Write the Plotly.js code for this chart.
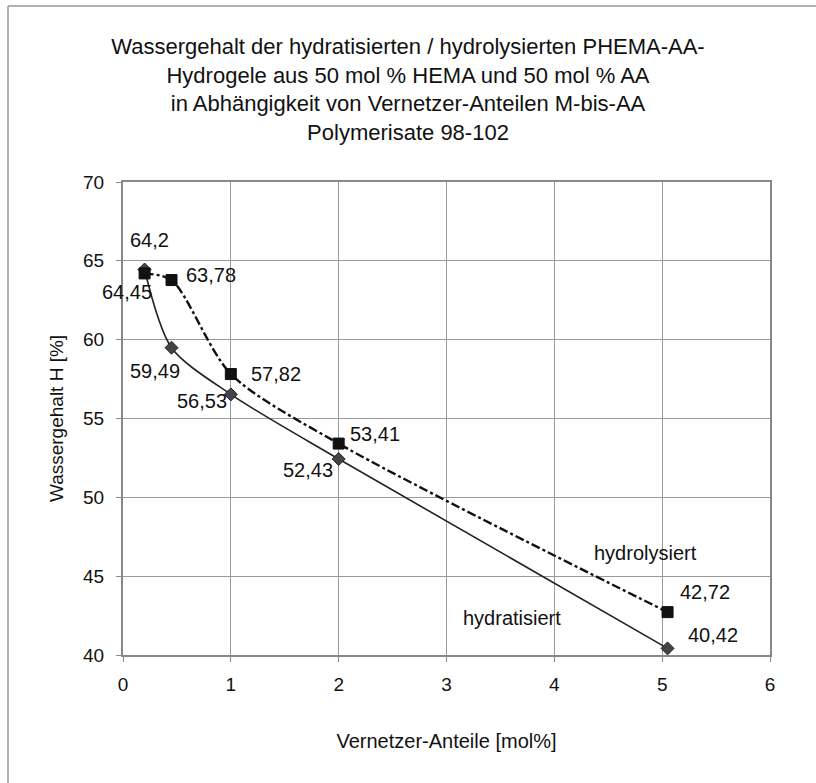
<!DOCTYPE html>
<html>
<head>
<meta charset="utf-8">
<script src="https://cdn.plot.ly/plotly-3.0.1.min.js"></script>
<style>
html,body{margin:0;padding:0;background:#fff;}
#chart{width:816px;height:783px;}
</style>
</head>
<body>
<div id="chart"></div>
<script>
// Data
const vernetzer = [0.2, 0.45, 1, 2, 5.05];
const hydratisiert = [64.45, 59.49, 56.53, 52.43, 40.42];
const hydrolysiert = [64.2, 63.78, 57.82, 53.41, 42.72];
const xTicks = [0, 1, 2, 3, 4, 5, 6];
const yTicks = [40, 45, 50, 55, 60, 65, 70];

const fmt = v => String(v).replace('.', ',');
const FONT = 'Liberation Sans, Arial, sans-serif';

// label offsets in px: [dx, dy] with dy positive = downward
const offHydrat = [[-18, 22], [-17, 23], [-29, 7], [-31, 11], [45, -13]];
const offHydrol = [[5, -33], [39, -5], [45, 0], [36, -10], [37, -20]];

const traces = [
  {
    x: vernetzer, y: hydratisiert, type: 'scatter', mode: 'lines+markers',
    name: 'hydratisiert',
    line: {color: '#222', width: 1.6, shape: 'spline', smoothing: 0.8},
    marker: {symbol: 'diamond', size: 10, color: '#444', line: {color: '#222', width: 1}}
  },
  {
    x: vernetzer, y: hydrolysiert, type: 'scatter', mode: 'lines+markers',
    name: 'hydrolysiert',
    line: {color: '#111', width: 2.4, dash: 'dashdot', shape: 'spline', smoothing: 0.8},
    marker: {symbol: 'square', size: 11, color: '#111', line: {color: '#111', width: 1}}
  }
];

const labelFont = {family: FONT, size: 20, color: '#111'};
const annotations = [];
vernetzer.forEach((x, i) => {
  annotations.push({x: x, y: hydratisiert[i], xref: 'x', yref: 'y', text: fmt(hydratisiert[i]),
    showarrow: false, xshift: offHydrat[i][0], yshift: -offHydrat[i][1], font: labelFont});
  annotations.push({x: x, y: hydrolysiert[i], xref: 'x', yref: 'y', text: fmt(hydrolysiert[i]),
    showarrow: false, xshift: offHydrol[i][0], yshift: -offHydrol[i][1], font: labelFont});
});
annotations.push({x: 4.85, y: 46.47, xref: 'x', yref: 'y', text: 'hydrolysiert', showarrow: false, font: labelFont});
annotations.push({x: 3.61, y: 42.35, xref: 'x', yref: 'y', text: 'hydratisiert', showarrow: false, font: labelFont});

const W = 647, H = 473, L = 123, T = 182;
const layout = {
  width: 816, height: 783,
  paper_bgcolor: '#fff', plot_bgcolor: '#fff',
  showlegend: false,
  margin: {l: 123, r: 46, t: 182, b: 128},
  font: {family: FONT, color: '#111'},
  title: {
    text: 'Wassergehalt der hydratisierten / hydrolysierten PHEMA-AA-<br>Hydrogele aus 50 mol % HEMA und 50 mol % AA<br>in Abhängigkeit von Vernetzer-Anteilen M-bis-AA<br>Polymerisate 98-102',
    font: {family: FONT, size: 22, color: '#111'},
    x: 0.5, xref: 'container', xanchor: 'center', y: 1 - 54 / 783, yref: 'container', yanchor: 'top'
  },
  xaxis: {
    range: [0, 6], tickvals: xTicks, ticktext: xTicks.map(String),
    showgrid: true, gridcolor: '#999', gridwidth: 1,
    showline: true, linecolor: '#888', linewidth: 2, mirror: true,
    ticks: 'outside', ticklen: 5, tickcolor: '#888', ticklabelstandoff: 6,
    tickfont: {family: FONT, size: 19, color: '#111'}, zeroline: false,
    title: {text: 'Vernetzer-Anteile [mol%]', font: {family: FONT, size: 20, color: '#111'}, standoff: 40}
  },
  yaxis: {
    range: [40, 70], tickvals: yTicks, ticktext: yTicks.map(String),
    showgrid: true, gridcolor: '#999', gridwidth: 1,
    showline: true, linecolor: '#888', linewidth: 2, mirror: true,
    ticks: 'outside', ticklen: 5, tickcolor: '#888', ticklabelstandoff: 8,
    tickfont: {family: FONT, size: 19, color: '#111'}, zeroline: false,
    title: {text: 'Wassergehalt H [%]', font: {family: FONT, size: 19, color: '#111'}, standoff: 14}
  },
  annotations: annotations,
  shapes: [
    {type: 'line', xref: 'paper', yref: 'paper',
     x0: (8 - L) / W, x1: (816 - L) / W, y0: (T + H - 6) / H, y1: (T + H - 6) / H,
     line: {color: '#999', width: 1.5}},
    {type: 'line', xref: 'paper', yref: 'paper',
     x0: (8 - L) / W, x1: (8 - L) / W, y0: (T + H - 6) / H, y1: (T + H - 783) / H,
     line: {color: '#999', width: 1.5}}
  ]
};

Plotly.newPlot('chart', traces, layout, {displayModeBar: false, staticPlot: true});
</script>
</body>
</html>
